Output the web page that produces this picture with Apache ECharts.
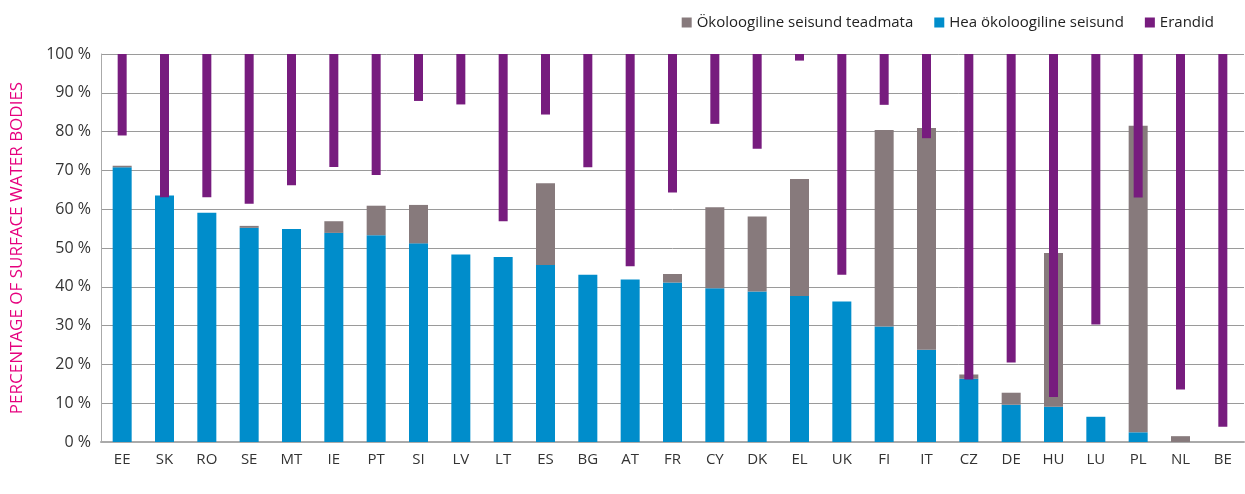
<!DOCTYPE html>
<html>
<head>
<meta charset="utf-8">
<script src="https://cdn.jsdelivr.net/npm/echarts@6/dist/echarts.min.js"></script>
<style>html,body{margin:0;padding:0;background:#fff}#c{width:1245px;height:494px}</style>
</head>
<body>
<div id="c"></div>
<script>
const categories = ['EE','SK','RO','SE','MT','IE','PT','SI','LV','LT','ES','BG','AT','FR','CY','DK','EL','UK','FI','IT','CZ','DE','HU','LU','PL','NL','BE'];
const goodStatus = [70.8,63.5,59.1,55.2,54.9,53.9,53.3,51.2,48.3,47.7,45.6,43.1,41.9,41.1,39.6,38.8,37.6,36.2,29.8,23.8,16.3,9.6,9.1,6.5,2.5,0,0];
const unknownStatus = [0.4,0,0,0.5,0,3.0,7.6,9.9,0,0,21.1,0,0,2.2,20.9,19.3,30.2,0,50.6,57.1,1.1,3.1,39.6,0,79.0,1.5,0];
const exemptions = [21.0,36.9,36.9,38.6,33.8,29.1,31.2,12.1,13.0,43.1,15.6,29.2,54.7,35.7,18.0,24.4,1.7,56.9,13.1,21.7,83.9,79.5,88.4,69.7,37.0,86.5,96.1];
const yTicks = [0,10,20,30,40,50,60,70,80,90,100];

const exemptionBase = exemptions.map(v => +(100 - v).toFixed(1));
const FONT = '"Open Sans", "Noto Sans", sans-serif';

const chart = echarts.init(document.getElementById('c'), null, {renderer:'canvas'});
chart.setOption({
  animation: false,
  textStyle: {fontFamily: FONT},
  legend: {
    top: 10, right: 26,
    itemWidth: 10, itemHeight: 10, itemGap: 21,
    icon: 'rect',
    textStyle: {fontSize: 15, color: '#222', fontFamily: FONT},
    data: ['Ökoloogiline seisund teadmata','Hea ökoloogiline seisund','Erandid']
  },
  grid: {left: 101, right: 1, top: 54, bottom: 52, containLabel: false, outerBoundsMode: 'none'},
  xAxis: [
    {type: 'category', data: categories,
     axisLine: {lineStyle: {color: '#aaaaaa', width: 2}},
     axisTick: {show: false},
     axisLabel: {fontSize: 15, color: '#333', margin: 10, fontFamily: FONT}},
    {type: 'category', data: categories, show: false, position: 'bottom'}
  ],
  yAxis: {
    type: 'value', min: 0, max: 100, interval: 10,
    name: 'PERCENTAGE OF SURFACE WATER BODIES',
    nameLocation: 'middle', nameGap: 75, nameRotate: 90,
    nameTextStyle: {color: '#e6007e', fontSize: 17, fontFamily: FONT},
    axisLine: {show: true, lineStyle: {color: '#aaaaaa', width: 1}},
    axisTick: {show: false},
    splitLine: {lineStyle: {color: '#9a9a9a', width: 1}},
    axisLabel: {fontSize: 16, color: '#333', margin: 10, fontFamily: FONT,
      formatter: v => yTicks.includes(v) ? v + ' %' : ''}
  },
  series: [
    {name: 'Hea ökoloogiline seisund', type: 'bar', stack: 'main', xAxisIndex: 0,
     barWidth: 19, data: goodStatus, itemStyle: {color: '#008dcb'}},
    {name: 'Ökoloogiline seisund teadmata', type: 'bar', stack: 'main', xAxisIndex: 0,
     barWidth: 19, data: unknownStatus, itemStyle: {color: '#877a7c'}},
    {name: 'base', type: 'bar', stack: 'exc', xAxisIndex: 1, barWidth: 9,
     data: exemptionBase, itemStyle: {color: 'rgba(0,0,0,0)'}, silent: true},
    {name: 'Erandid', type: 'bar', stack: 'exc', xAxisIndex: 1, barWidth: 9,
     data: exemptions, itemStyle: {color: '#771c7e'}}
  ]
});
</script>
</body>
</html>
